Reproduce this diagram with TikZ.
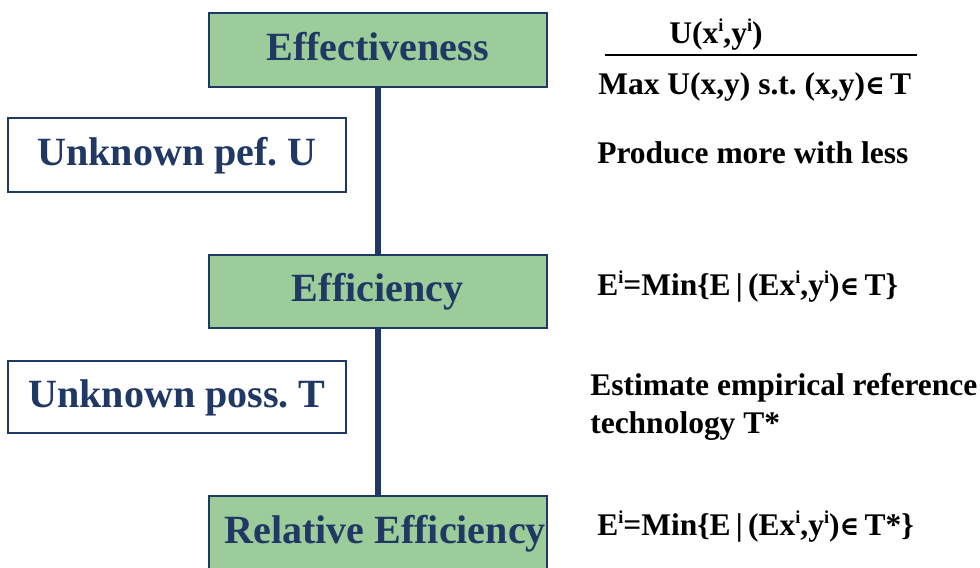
\documentclass[tikz,border=0pt]{standalone}
\usepackage{fontspec}
\setmainfont{Liberation Serif}
\newfontfamily\dvfont{DejaVu Serif}
\usetikzlibrary{backgrounds,positioning}
\pgfdeclarelayer{edgelayer}
\pgfdeclarelayer{nodelayer}
\pgfsetlayers{background,edgelayer,nodelayer,main}
\frenchspacing
\definecolor{navy}{RGB}{31,56,100}
\definecolor{sage}{RGB}{155,204,153}
\tikzstyle{none}=[inner sep=0mm]
\tikzstyle{gbox}=[draw=navy,fill=sage,line width=1.4pt,minimum width=8.45cm,minimum height=1.85cm,inner sep=0pt,text=navy,font=\bfseries\fontsize{28.5}{34}\selectfont,text height=0.5cm,text depth=0pt]
\tikzstyle{wbox}=[gbox,fill=white]
\tikzstyle{rtext}=[none,anchor=base west,align=left,font=\bfseries\fontsize{22.4}{27}\selectfont]
\tikzstyle{stem}=[draw=navy,line width=4.2pt]
\newcommand{\elem}{{\dvfont\fontsize{19}{20}\selectfont ∈}}
\newcommand{\supi}{\raisebox{0.38em}{\fontsize{13}{13}\selectfont i}}

\begin{document}
\begin{tikzpicture}
	\clip (0, 0) rectangle (24.5, -14.2);
	\begin{pgfonlayer}{nodelayer}
		\node [style=gbox] (effect) at (9.44, -1.25) {Effectiveness};
		\node [style=wbox] (unkpref) at (4.425, -3.875) {Unknown pef. U};
		\node [style=gbox, minimum height=1.825cm] (effic) at (9.44, -7.29) {Efficiency};
		\node [style=wbox, minimum height=1.8cm] (unkposs) at (4.425, -9.925) {Unknown poss. T};
		\node [style=gbox, minimum height=2.4cm] (releff) at (9.44, -13.6) {};
		\node [style=none, anchor=base west, text=navy, font=\bfseries\fontsize{28.5}{34}\selectfont] (releff text) at (5.6, -13.575) {Relative Efficiency};
		\node [style=rtext, anchor=base] (num) at (17.9, -1.075) {U(x\supi,y\supi)};
		\coordinate (rule l) at (15.125, -1.375);
		\coordinate (rule r) at (22.925, -1.375);
		\node [style=rtext] (den) at (14.95, -2.35) {Max U(x,y) s.t. (x,y)\elem\,T};
		\node [style=rtext] (produce) at (14.925, -4.075) {Produce more with less};
		\node [style=rtext] (eff eq) at (14.925, -7.375) {E\supi=Min\{E\,|\,(Ex\supi,y\supi)\elem\,T\}};
		\node [style=rtext] (estimate) at (14.75, -10.825) {Estimate empirical reference\\technology T*};
		\node [style=rtext] (rel eq) at (14.925, -13.375) {E\supi=Min\{E\,|\,(Ex\supi,y\supi)\elem\,T*\}};
	\end{pgfonlayer}
	\begin{pgfonlayer}{edgelayer}
		\draw [style=stem] (effect) to (effic);
		\draw [style=stem] (effic) to (releff);
		\draw [line width=1pt] (rule l) to (rule r);
	\end{pgfonlayer}
\end{tikzpicture}
\end{document}
